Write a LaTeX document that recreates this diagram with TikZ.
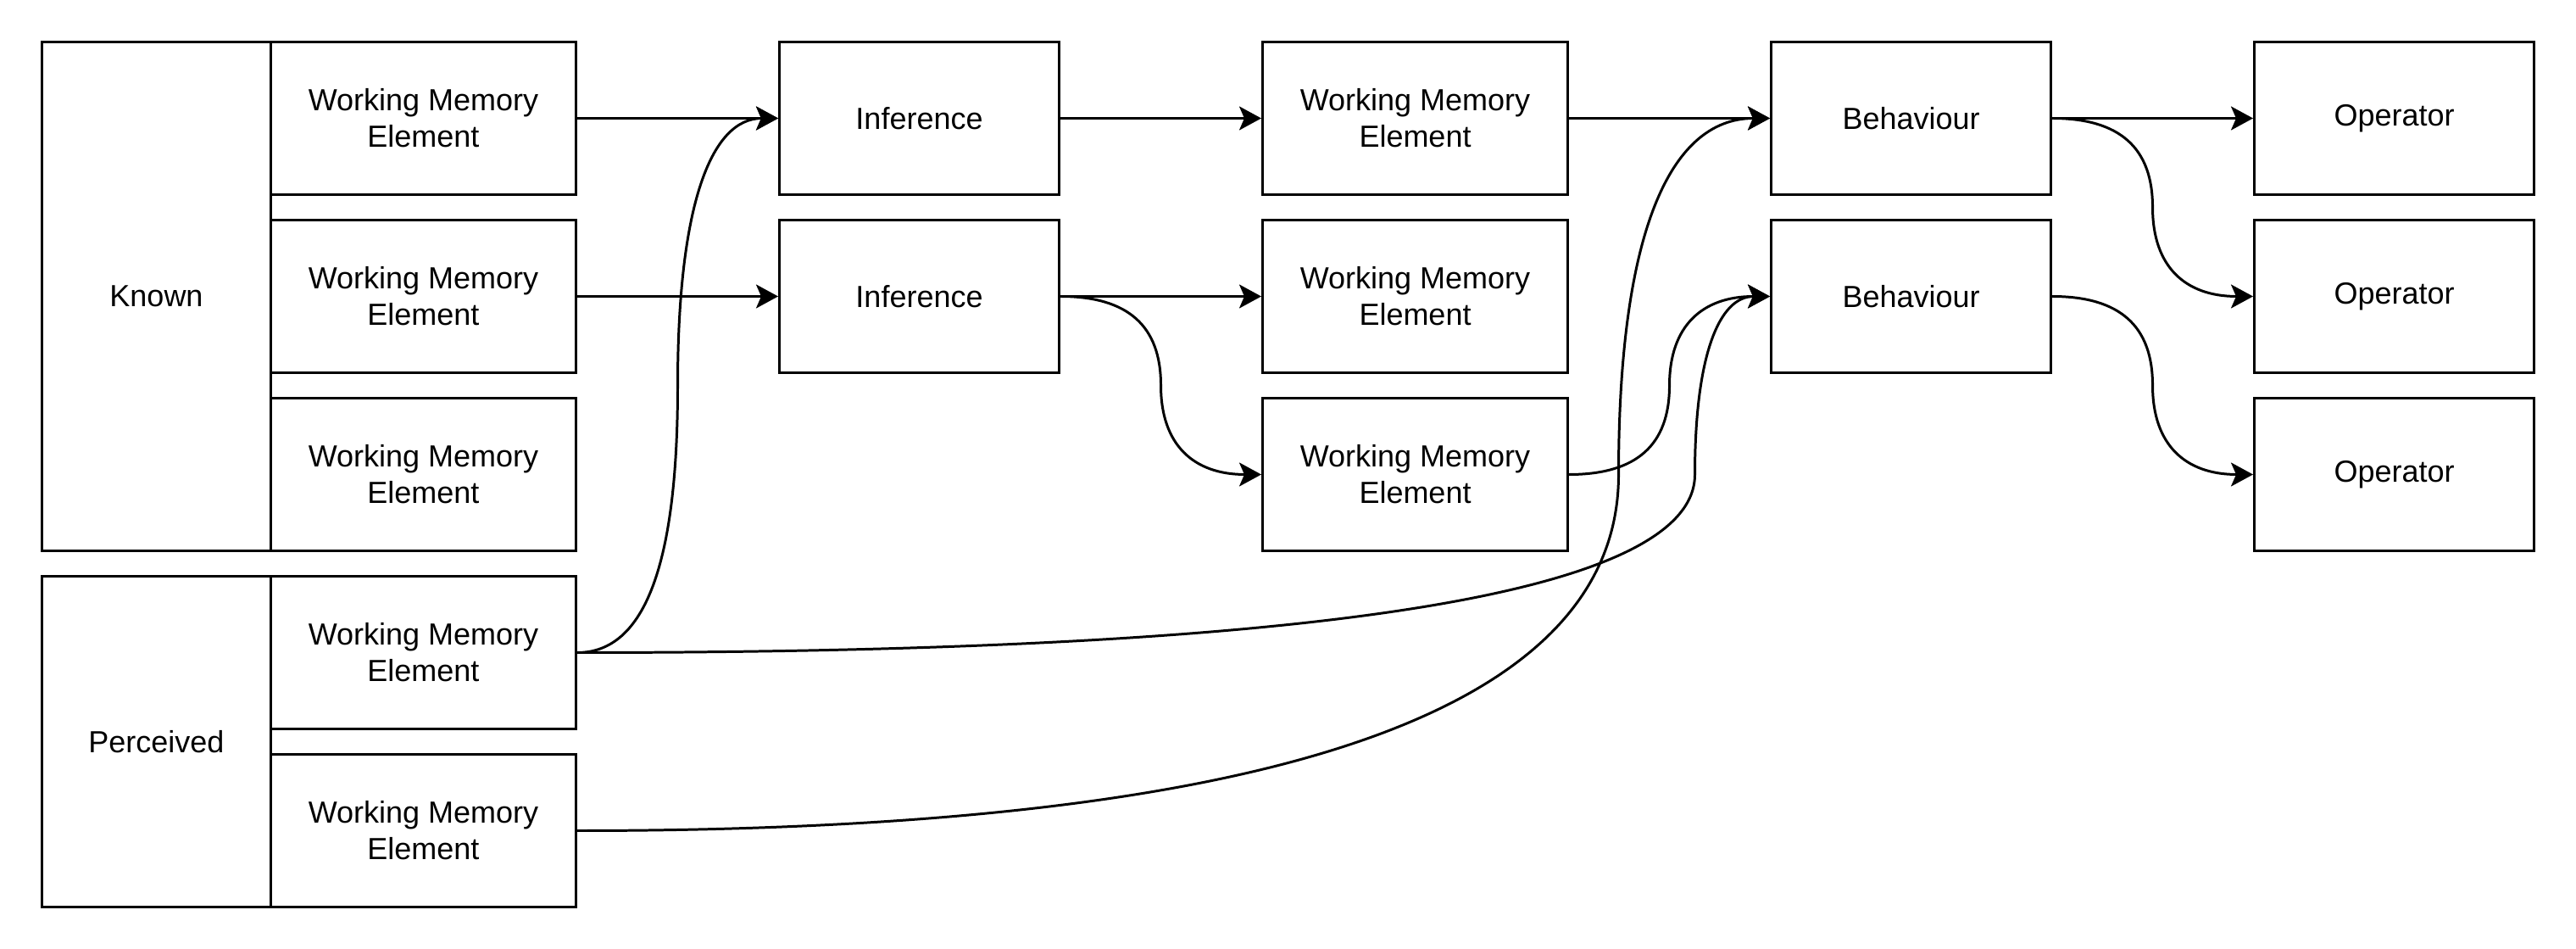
\documentclass[tikz,border=0pt]{standalone}
\usepackage{fontspec}
\setmainfont{Liberation Sans}
\usetikzlibrary{arrows.meta,positioning}

\begin{document}
\begin{tikzpicture}[
    x=0.03cm, y=-0.03cm,
    font=\fontsize{10.24pt}{12.3pt}\selectfont,
    box/.style={rectangle, draw=black, line width=0.85pt, inner sep=0pt,
                minimum height=1.8cm, align=center},
    wme/.style={box, minimum width=3.6cm},
    proc/.style={box, minimum width=3.3cm},
    group/.style={box, minimum width=2.7cm},
    flow/.style={-{Stealth[length=2.6mm, width=2.8mm, inset=0.6mm]}, line width=0.85pt}
]
\useasboundingbox (-16.5,-16.5) rectangle (996.5,356.5);

% COLUMN 1 (sources)
\node[group, minimum height=6cm] (known) at (45,100) {Known};
\node[wme] (wmeA) at (150,30) {Working Memory\\Element};
\node[wme] (wmeB) at (150,100) {Working Memory\\Element};
\node[wme] (wmeC) at (150,170) {Working Memory\\Element};

\node[group, minimum height=3.9cm] (perceived) at (45,275) {Perceived};
\node[wme] (wmeD) at (150,240) {Working Memory\\Element};
\node[wme] (wmeE) at (150,310) {Working Memory\\Element};

% COLUMN 2
\node[proc] (infA) at (345,30) {Inference};
\node[proc] (infB) at (345,100) {Inference};

% COLUMN 3
\node[wme] (wmeF) at (540,30) {Working Memory\\Element};
\node[wme] (wmeG) at (540,100) {Working Memory\\Element};
\node[wme] (wmeH) at (540,170) {Working Memory\\Element};

% COLUMN 4
\node[proc] (behA) at (735,30) {Behaviour};
\node[proc] (behB) at (735,100) {Behaviour};

% COLUMN 5
\node[proc] (opA) at (925,30) {Operator};
\node[proc] (opB) at (925,100) {Operator};
\node[proc] (opC) at (925,170) {Operator};

% bends
\coordinate (bendInf) at (250,135);
\coordinate (bendWme) at (440,135);
\coordinate (bendBeh) at (640,135);
\coordinate (bendPerD) at (650,170);
\coordinate (bendPerE) at (620,170);
\coordinate (bendOpB) at (830,65);
\coordinate (bendOpC) at (830,135);

% straight links
\draw[flow] (wmeA) -- (infA);
\draw[flow] (wmeB) -- (infB);
\draw[flow] (infA) -- (wmeF);
\draw[flow] (infB) -- (wmeG);
\draw[flow] (wmeF) -- (behA);
\draw[flow] (behA) -- (opA);

% curved links
\draw[flow] (wmeD.east) .. controls +(26.7,0) and +(0,70) .. (bendInf)
    .. controls +(0,-70) and +(-26.7,0) .. (infA.west);
\draw[flow] (infB.east) .. controls +(26.7,0) and +(0,-23.3) .. (bendWme)
    .. controls +(0,23.3) and +(-26.7,0) .. (wmeH.west);
\draw[flow] (wmeH.east) .. controls +(26.7,0) and +(0,23.3) .. (bendBeh)
    .. controls +(0,-23.3) and +(-26.7,0) .. (behB.west);
\draw[flow] (wmeD.east) .. controls +(293.3,0) and +(0,46.7) .. (bendPerD)
    .. controls +(0,-46.7) and +(-20,0) .. (behB.west);
\draw[flow] (wmeE.east) .. controls +(273.3,0) and +(0,93.3) .. (bendPerE)
    .. controls +(0,-93.3) and +(-40,0) .. (behA.west);
\draw[flow] (behA.east) .. controls +(26.7,0) and +(0,-23.3) .. (bendOpB)
    .. controls +(0,23.3) and +(-26.7,0) .. (opB.west);
\draw[flow] (behB.east) .. controls +(26.7,0) and +(0,-23.3) .. (bendOpC)
    .. controls +(0,23.3) and +(-26.7,0) .. (opC.west);

\end{tikzpicture}
\end{document}
